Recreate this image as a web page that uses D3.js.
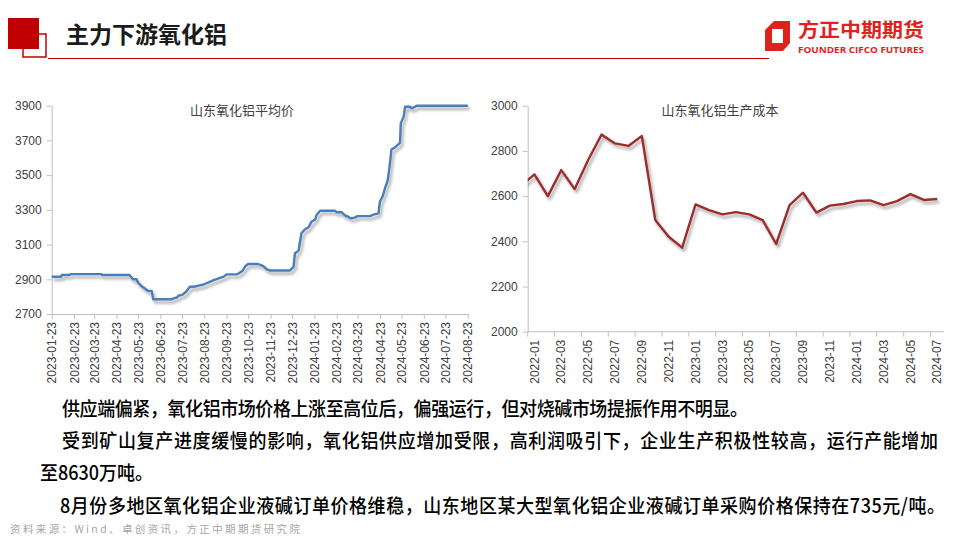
<!DOCTYPE html>
<html><head><meta charset="utf-8">
<script src="https://cdn.jsdelivr.net/npm/d3@7"></script>
<style>body{margin:0;background:#fff}svg{display:block}</style>
</head><body>
<svg id="c" width="960" height="540"></svg>
<script>
// ---------- data ----------
const priceTitle = "山东氧化铝平均价";
const priceDates = ["2023-01-23","2023-02-05","2023-02-06","2023-02-17","2023-02-18","2023-04-02","2023-04-03","2023-05-11","2023-05-14","2023-05-16","2023-05-21","2023-05-23","2023-05-28","2023-06-02","2023-06-06","2023-06-11","2023-06-13","2023-07-09","2023-07-11","2023-07-16","2023-07-18","2023-07-23","2023-07-27","2023-07-30","2023-08-03","2023-08-08","2023-08-15","2023-08-22","2023-08-29","2023-09-05","2023-09-12","2023-09-19","2023-09-23","2023-10-07","2023-10-12","2023-10-15","2023-10-19","2023-10-23","2023-11-06","2023-11-13","2023-11-18","2023-11-22","2023-12-20","2023-12-25","2023-12-27","2024-01-01","2024-01-05","2024-01-10","2024-01-15","2024-01-19","2024-01-24","2024-01-26","2024-01-31","2024-02-21","2024-02-23","2024-03-01","2024-03-06","2024-03-10","2024-03-13","2024-03-19","2024-03-23","2024-04-09","2024-04-14","2024-04-21","2024-04-23","2024-04-27","2024-04-30","2024-05-04","2024-05-07","2024-05-09","2024-05-14","2024-05-19","2024-05-21","2024-05-22","2024-05-26","2024-05-28","2024-06-04","2024-06-06","2024-06-11","2024-06-13","2024-08-22","2024-08-23"];
const priceValues = [2915,2915,2925,2925,2930,2930,2925,2925,2910,2900,2900,2880,2860,2845,2833,2833,2785,2785,2790,2795,2805,2810,2822,2835,2857,2857,2863,2870,2882,2895,2905,2915,2928,2928,2940,2948,2975,2988,2988,2976,2957,2951,2951,2972,3050,3065,3165,3188,3200,3232,3245,3270,3295,3295,3286,3286,3266,3261,3251,3255,3264,3264,3272,3280,3347,3380,3424,3472,3568,3648,3660,3679,3687,3798,3837,3894,3894,3885,3894,3900,3900,3904];
const priceTicks = ["2023-01-23","2023-02-23","2023-03-23","2023-04-23","2023-05-23","2023-06-23","2023-07-23","2023-08-23","2023-09-23","2023-10-23","2023-11-23","2023-12-23","2024-01-23","2024-02-23","2024-03-23","2024-04-23","2024-05-23","2024-06-23","2024-07-23","2024-08-23"];
const priceYTicks = [2700,2900,3100,3300,3500,3700,3900];

const costTitle = "山东氧化铝生产成本";
const costMonths = ["2022-01","2022-02","2022-03","2022-04","2022-05","2022-06","2022-07","2022-08","2022-09","2022-10","2022-11","2022-12","2023-01","2023-02","2023-03","2023-04","2023-05","2023-06","2023-07","2023-08","2023-09","2023-10","2023-11","2023-12","2024-01","2024-02","2024-03","2024-04","2024-05","2024-06","2024-07"];
const costValues = [2696,2600,2715,2631,2760,2872,2833,2822,2866,2494,2420,2372,2563,2538,2519,2529,2519,2494,2388,2560,2615,2527,2558,2565,2578,2581,2560,2578,2609,2583,2587];
const costPrev = 2645; // preceding month, clipped at the plot edge
const costYTicks = [2000,2200,2400,2600,2800,3000];

const headerTitle = "主力下游氧化铝";
const logoCN = "方正中期期货";
const logoEN = "FOUNDER CIFCO FUTURES";
const bodyLines = [
  "供应端偏紧，氧化铝市场价格上涨至高位后，偏强运行，但对烧碱市场提振作用不明显。",
  "受到矿山复产进度缓慢的影响，氧化铝供应增加受限，高利润吸引下，企业生产积极性较高，运行产能增加",
  "至8630万吨。",
  "8月份多地区氧化铝企业液碱订单价格维稳，山东地区某大型氧化铝企业液碱订单采购价格保持在735元/吨。"
];
const sourceText = "资料来源：Wind、卓创资讯，方正中期期货研究院";

// ---------- drawing ----------
const svg = d3.select("#c");
const CJK = "'Noto Sans CJK SC','Noto Sans',sans-serif";
const NUM = "'Liberation Sans',Arial,sans-serif";
const axisColor = "#bfbfbf";
const labelColor = "#404040";

const defs = svg.append("defs");
const f = defs.append("filter").attr("id","sh").attr("x","-5%").attr("y","-5%").attr("width","110%").attr("height","120%");
f.append("feDropShadow").attr("dx",2).attr("dy",3).attr("stdDeviation",1.4).attr("flood-color","#000").attr("flood-opacity",0.35);

// header
svg.append("rect").attr("x",23).attr("y",34).attr("width",23).attr("height",23).attr("fill","none").attr("stroke","#c00000").attr("stroke-width",1.5);
svg.append("rect").attr("x",8).attr("y",18).attr("width",31).attr("height",31).attr("fill","#c00000");
svg.append("line").attr("x1",48).attr("x2",769).attr("y1",58.5).attr("y2",58.5).attr("stroke","#c00000").attr("stroke-width",1.2);
svg.append("text").attr("x",66).attr("y",43).attr("font-family",CJK).attr("font-weight",700).attr("font-size",23).attr("fill","#1a1a1a").text(headerTitle);

// logo
const lg = svg.append("g").attr("transform","translate(765,21)");
lg.append("path").attr("fill-rule","evenodd").attr("fill","#e0221c")
  .attr("d","M9,0 L25,0 L25,22 L18,30 L0,30 L0,9 Z M7,8 L18,8 L18,22 L7,22 Z");
svg.append("text").attr("x",798).attr("y",37).attr("font-family",CJK).attr("font-weight",700).attr("font-size",19)
  .attr("fill","#e0221c").attr("textLength",126).attr("lengthAdjust","spacingAndGlyphs").text(logoCN);
svg.append("text").attr("x",798).attr("y",52.5).attr("font-family","'Open Sans',sans-serif").attr("font-weight",700).attr("font-size",9)
  .attr("fill","#e0221c").attr("textLength",126).attr("lengthAdjust","spacingAndGlyphs").text(logoEN);

function styleAxis(g){
  g.selectAll(".domain").attr("stroke",axisColor);
  g.selectAll(".tick line").attr("stroke",axisColor);
  g.selectAll("text").attr("fill",labelColor).attr("font-family",NUM).attr("font-size",12);
}

// ---- left chart ----
const L = {x0:51.7, x1:467.7, y0:314, y1:105.7};
const parse = d3.timeParse("%Y-%m-%d");
const xL = d3.scaleTime().domain([parse(priceTicks[0]), parse(priceTicks[priceTicks.length-1])]).range([L.x0, L.x1]);
const yL = d3.scaleLinear().domain([2700,3900]).range([L.y0, L.y1]);

const gyL = svg.append("g").attr("transform",`translate(${L.x0},0)`)
  .call(d3.axisLeft(yL).tickValues(priceYTicks).tickSize(5).tickSizeOuter(0).tickPadding(5).tickFormat(d3.format("d")));
styleAxis(gyL);
const gxL = svg.append("g").attr("transform",`translate(0,${L.y0})`)
  .call(d3.axisBottom(xL).tickValues(priceTicks.map(parse)).tickSize(5).tickSizeOuter(0).tickFormat(d3.timeFormat("%Y-%m-%d")));
styleAxis(gxL);
gxL.selectAll("text").attr("transform","rotate(-90)").attr("x",-8).attr("y",0).attr("dy","0.35em").style("text-anchor","end");

const priceData = priceDates.map((d,i)=>({d:parse(d), v:priceValues[i]}));
svg.append("path").datum(priceData)
  .attr("fill","none").attr("stroke","#4a7ebb").attr("stroke-width",2.4).attr("stroke-linejoin","round")
  .attr("filter","url(#sh)")
  .attr("d", d3.line().x(d=>xL(d.d)).y(d=>yL(d.v)));
svg.append("text").attr("x",242).attr("y",115).attr("text-anchor","middle").attr("font-family",CJK).attr("font-size",13).attr("fill",labelColor).text(priceTitle);

// ---- right chart ----
const R = {x0:527.7, x1:944, y0:331.7, y1:105.7};
const xR = d3.scaleBand().domain(costMonths).range([R.x0, R.x1]).paddingInner(0).paddingOuter(0);
const bw = xR.bandwidth();
const yR = d3.scaleLinear().domain([2000,3000]).range([R.y0, R.y1]);

const gyR = svg.append("g").attr("transform",`translate(${R.x0},0)`)
  .call(d3.axisLeft(yR).tickValues(costYTicks).tickSize(5).tickSizeOuter(0).tickPadding(5).tickFormat(d3.format("d")));
styleAxis(gyR);
const gxR = svg.append("g");
gxR.append("line").attr("x1",R.x0).attr("x2",R.x1).attr("y1",R.y0).attr("y2",R.y0).attr("stroke",axisColor);
const shown = costMonths.filter((m,i)=>i%2===0);
gxR.selectAll("line.t").data(shown).join("line").attr("class","t")
  .attr("x1",d=>xR(d)).attr("x2",d=>xR(d)).attr("y1",R.y0).attr("y2",R.y0+5).attr("stroke",axisColor);
gxR.selectAll("text").data(shown).join("text")
  .attr("transform",d=>`translate(${xR(d)+bw/2},${R.y0+8}) rotate(-90)`)
  .attr("dy","0.35em").attr("text-anchor","end").attr("fill",labelColor).attr("font-family",NUM).attr("font-size",12).text(d=>d);

defs.append("clipPath").attr("id","clipR").append("rect").attr("x",R.x0).attr("y",R.y1-10).attr("width",R.x1-R.x0+20).attr("height",R.y0-R.y1+20);
const costPts = [{x:xR(costMonths[0])-bw/2, v:costPrev}].concat(costMonths.map((m,i)=>({x:xR(m)+bw/2, v:costValues[i]})));
svg.append("g").attr("clip-path","url(#clipR)").append("path").datum(costPts)
  .attr("fill","none").attr("stroke","#9b2d2d").attr("stroke-width",2.4).attr("stroke-linejoin","round")
  .attr("filter","url(#sh)")
  .attr("d", d3.line().x(d=>d.x).y(d=>yR(d.v)));
svg.append("text").attr("x",720).attr("y",115).attr("text-anchor","middle").attr("font-family",CJK).attr("font-size",13).attr("fill",labelColor).text(costTitle);

// ---- body text ----
const bodyPos = [{x:62,y:416,w:686},{x:62,y:448,w:876},{x:40,y:480,w:null},{x:60,y:513,w:885}];
bodyLines.forEach((t,i)=>{
  const p = bodyPos[i];
  const tx = svg.append("text").attr("transform",`translate(${p.x},${p.y}) scale(1,1.08)`)
    .attr("font-family",CJK).attr("font-weight",500)
    .attr("font-size",18).attr("fill","#000").text(t);
  if(p.w) tx.attr("textLength",p.w).attr("lengthAdjust","spacing");
});
svg.append("text").attr("x",10).attr("y",533).attr("font-family",CJK).attr("font-size",10.5).attr("fill","#a6a6a6")
  .attr("textLength",290).attr("lengthAdjust","spacing").text(sourceText);
</script>
</body></html>
